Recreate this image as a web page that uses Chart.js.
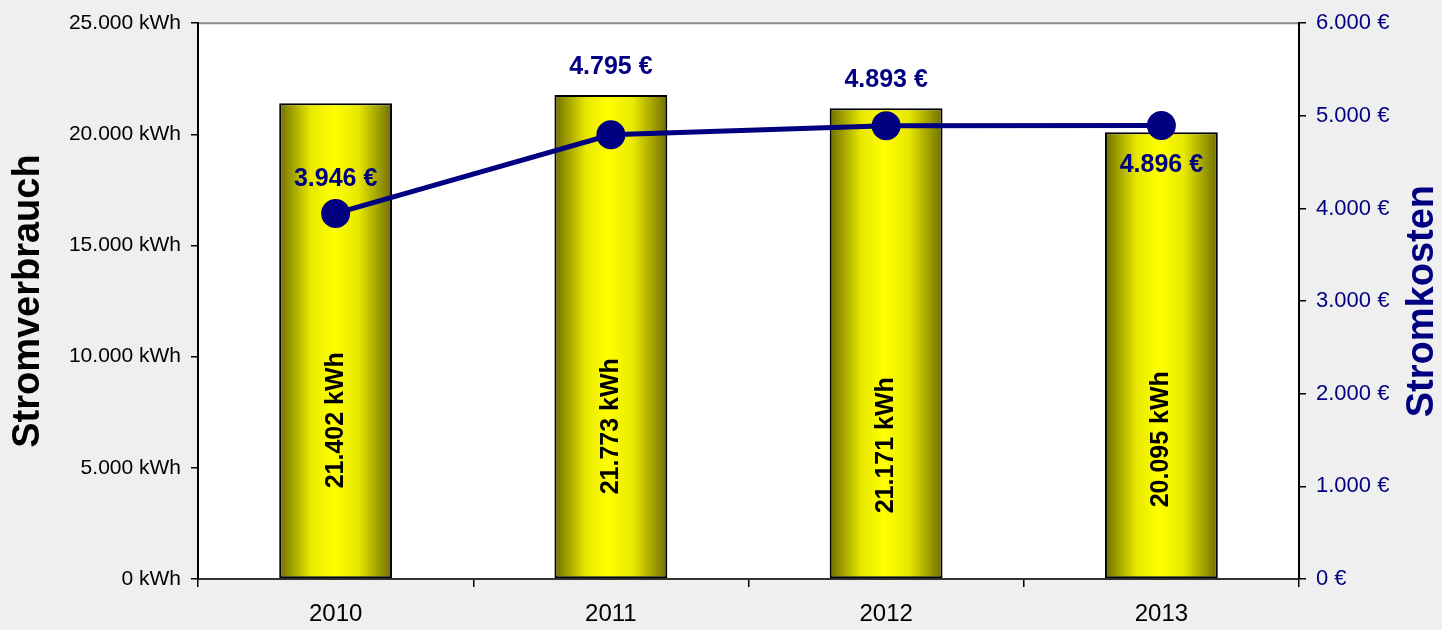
<!DOCTYPE html>
<html>
<head>
<meta charset="utf-8">
<script src="https://cdn.jsdelivr.net/npm/chart.js@4"></script>
<style>
body { margin: 0; background: #efefef; overflow: hidden; }
canvas { display: block; }
</style>
</head>
<body>
<canvas id="chart" width="1442" height="630"></canvas>
<script>
// data
const years = ['2010', '2011', '2012', '2013'];
const verbrauch = [21402, 21773, 21171, 20095];   // kWh
const kosten = [3946, 4795, 4893, 4896];          // €

const navy = '#000080';
const font = '"Liberation Sans", Arial, sans-serif';

// 21402 -> "21.402"
const fmt = n => String(n).replace(/\B(?=(\d{3})+(?!\d))/g, '.');

// yellow cylinder look
function barFill(c) {
    const chart = c.chart;
    const xs = chart.scales.x;
    if (!chart.chartArea || !xs) return '#ffff00';
    const cx = xs.getPixelForValue(c.dataIndex);
    const half = chart.chartArea.width / years.length * 0.41 / 2;
    const g = chart.ctx.createLinearGradient(cx - half, 0, cx + half, 0);
    g.addColorStop(0, '#6e6e00');
    g.addColorStop(0.28, '#e8e800');
    g.addColorStop(0.48, '#ffff00');
    g.addColorStop(0.7, '#e8e800');
    g.addColorStop(1, '#6e6e00');
    return g;
}

// grey page, white plot area
const backdrop = {
    id: 'backdrop',
    beforeDraw(chart) {
        const { ctx, chartArea: a } = chart;
        ctx.save();
        ctx.fillStyle = '#efefef';
        ctx.fillRect(0, 0, chart.width, chart.height);
        ctx.fillStyle = '#ffffff';
        ctx.fillRect(a.left, a.top, a.right - a.left, a.bottom - a.top);
        ctx.strokeStyle = '#8c8c8c';
        ctx.lineWidth = 2;
        ctx.beginPath();
        ctx.moveTo(a.left, a.top);
        ctx.lineTo(a.right, a.top);
        ctx.stroke();
        ctx.restore();
    }
};

// axis titles, both read bottom to top
const axisTitles = {
    id: 'axisTitles',
    afterDraw(chart) {
        const { ctx, chartArea: a } = chart;
        const midY = (a.top + a.bottom) / 2;
        ctx.save();
        ctx.font = 'bold 38px ' + font;
        ctx.textAlign = 'center';
        ctx.textBaseline = 'middle';
        [['Stromverbrauch', 29, '#000000'], ['Stromkosten', 1423, navy]].forEach(([t, x, col]) => {
            ctx.save();
            ctx.translate(x, midY);
            ctx.rotate(-Math.PI / 2);
            ctx.fillStyle = col;
            ctx.fillText(t, 0, 0);
            ctx.restore();
        });
        ctx.restore();
    }
};

// value labels
const valueLabels = {
    id: 'valueLabels',
    afterDatasetsDraw(chart, args, opts) {
        const ctx = chart.ctx;
        ctx.save();
        ctx.textAlign = 'center';
        ctx.textBaseline = 'middle';

        // kWh inside the bars, rotated
        ctx.font = 'bold 25px ' + font;
        ctx.fillStyle = '#000';
        chart.getDatasetMeta(0).data.forEach((bar, i) => {
            ctx.save();
            ctx.translate(bar.x, bar.base - opts.barLift[i]);
            ctx.rotate(-Math.PI / 2);
            ctx.fillText(fmt(verbrauch[i]) + ' kWh', 0, 0);
            ctx.restore();
        });

        // costs next to the points
        ctx.fillStyle = navy;
        chart.getDatasetMeta(1).data.forEach((pt, i) => {
            ctx.fillText(fmt(kosten[i]) + ' €', pt.x, pt.y + opts.pointShift[i]);
        });
        ctx.restore();
    }
};

new Chart(document.getElementById('chart'), {
    type: 'bar',
    data: {
        labels: years,
        datasets: [{
            type: 'bar',
            label: 'Stromverbrauch',
            data: verbrauch,
            yAxisID: 'y',
            backgroundColor: barFill,
            borderColor: '#000',
            borderWidth: 2,
            borderSkipped: false,
            barPercentage: 0.41,
            categoryPercentage: 1,
            order: 2
        }, {
            type: 'line',
            label: 'Stromkosten',
            data: kosten,
            yAxisID: 'y2',
            borderColor: navy,
            backgroundColor: navy,
            borderWidth: 5,
            tension: 0,
            pointRadius: 12,
            pointBackgroundColor: navy,
            pointBorderColor: navy,
            order: 1
        }]
    },
    options: {
        responsive: false,
        animation: false,
        layout: { padding: { top: 22, left: 0, right: 0, bottom: 0 } },
        plugins: {
            legend: { display: false },
            tooltip: { enabled: false },
            valueLabels: {
                barLift: [158, 152, 133, 139],
                pointShift: [-34, -68, -46, 40]
            }
        },
        scales: {
            x: {
                offset: true,
                grid: { offset: true, drawOnChartArea: false, tickLength: 8, color: '#000', lineWidth: 1.5 },
                border: { color: '#333', width: 2 },
                ticks: { color: '#000', font: { family: font, size: 24 }, padding: 13 },
                afterFit: s => { s.height = 51; }
            },
            y: {
                position: 'left',
                min: 0,
                max: 25000,
                ticks: {
                    stepSize: 5000,
                    color: '#000',
                    font: { family: font, size: 21 },
                    padding: 10,
                    callback: v => fmt(v) + ' kWh'
                },
                grid: { drawOnChartArea: false, tickLength: 7, color: '#000', lineWidth: 1.5 },
                border: { color: '#000', width: 2 },
                afterFit: s => { s.width = 198; }
            },
            y2: {
                position: 'right',
                min: 0,
                max: 6000,
                ticks: {
                    stepSize: 1000,
                    color: navy,
                    font: { family: font, size: 22 },
                    padding: 10,
                    callback: v => fmt(v) + ' €'
                },
                grid: { drawOnChartArea: false, tickLength: 7, color: '#000', lineWidth: 1.5 },
                border: { color: '#000', width: 2 },
                afterFit: s => { s.width = 143; }
            }
        }
    },
    plugins: [backdrop, valueLabels, axisTitles]
});
</script>
</body>
</html>
